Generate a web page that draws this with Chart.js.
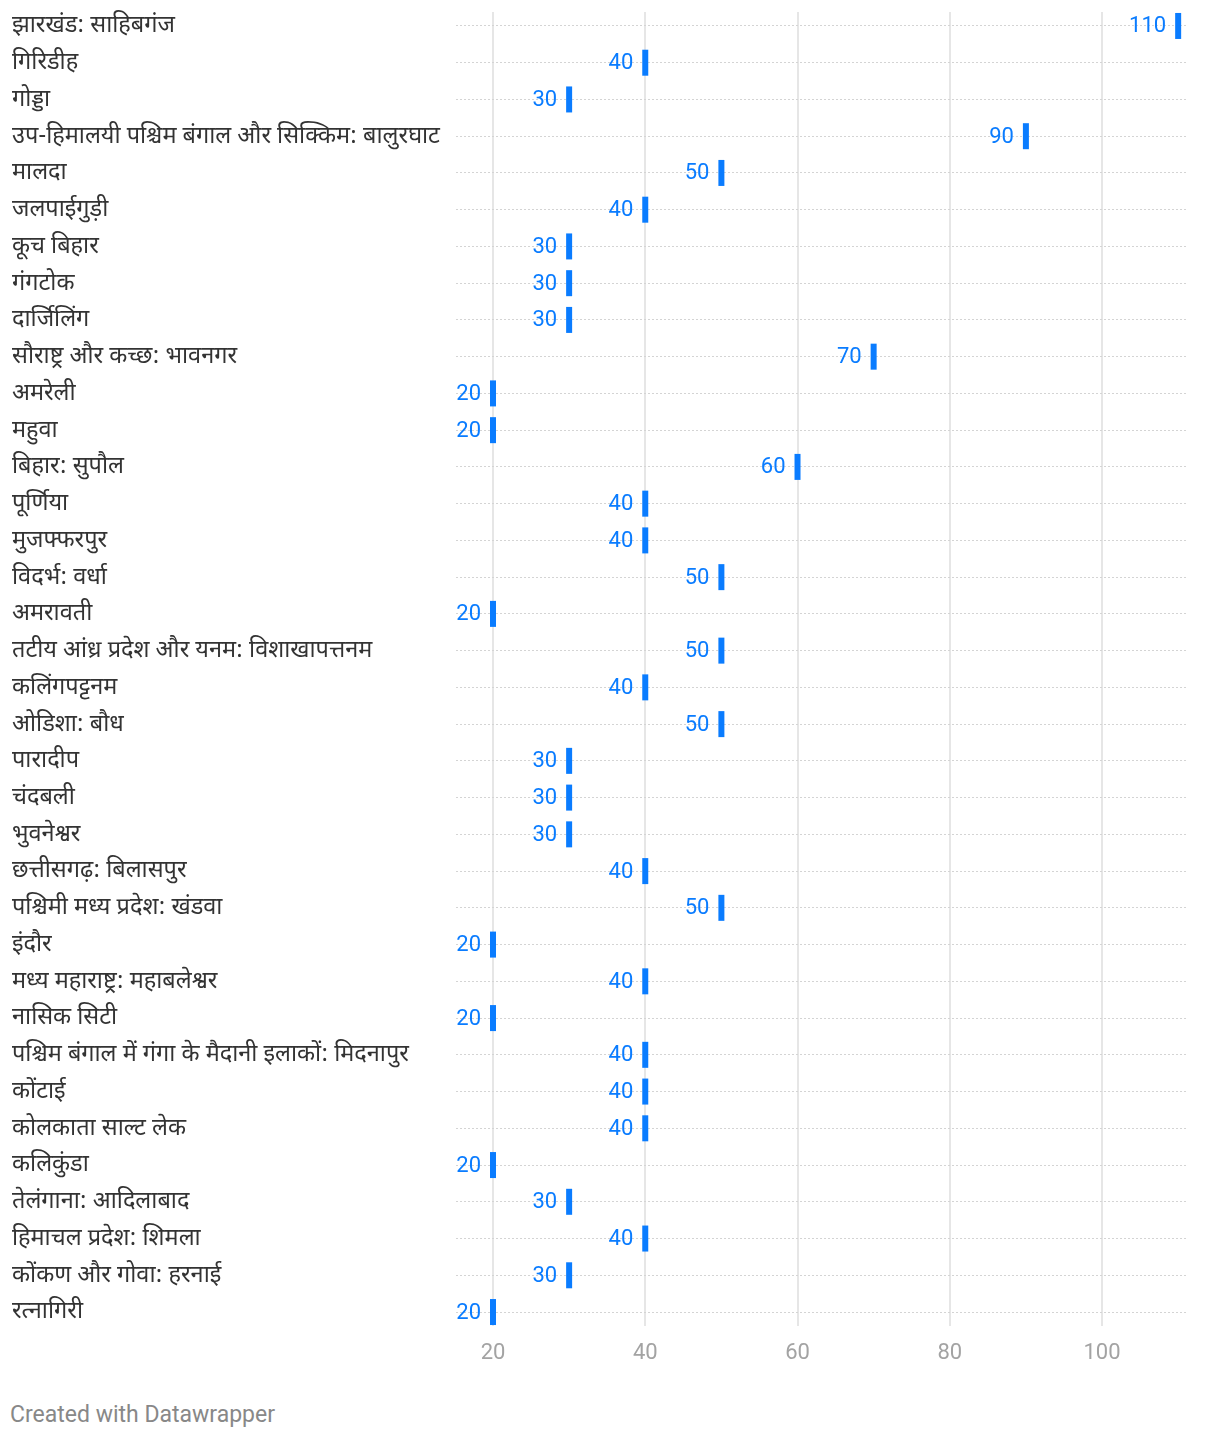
<!DOCTYPE html>
<html>
<head>
<meta charset="utf-8">
<script src="https://cdn.jsdelivr.net/npm/chart.js@4/dist/chart.umd.min.js"></script>
<style>
  html, body { margin: 0; padding: 0; background: #fff; }
  #wrap { position: relative; width: 1220px; height: 1380px; }
  #footer { position: absolute; left: 10px; top: 1401px; font: 23px Roboto, "Noto Sans", sans-serif; color: #888; }
</style>
</head>
<body>
<div id="wrap"><canvas id="c" width="1220" height="1380"></canvas></div>
<div id="footer">Created with Datawrapper</div>
<script>
const categories = [
  "झारखंड: साहिबगंज", "गिरिडीह", "गोड्डा",
  "उप-हिमालयी पश्चिम बंगाल और सिक्किम: बालुरघाट", "मालदा", "जलपाईगुड़ी", "कूच बिहार", "गंगटोक", "दार्जिलिंग",
  "सौराष्ट्र और कच्छ: भावनगर", "अमरेली", "महुवा",
  "बिहार: सुपौल", "पूर्णिया", "मुजफ्फरपुर",
  "विदर्भ: वर्धा", "अमरावती",
  "तटीय आंध्र प्रदेश और यनम: विशाखापत्तनम", "कलिंगपट्टनम",
  "ओडिशा: बौध", "पारादीप", "चंदबली", "भुवनेश्वर",
  "छत्तीसगढ़: बिलासपुर",
  "पश्चिमी मध्य प्रदेश: खंडवा", "इंदौर",
  "मध्य महाराष्ट्र: महाबलेश्वर", "नासिक सिटी",
  "पश्चिम बंगाल में गंगा के मैदानी इलाकों: मिदनापुर", "कोंटाई", "कोलकाता साल्ट लेक", "कलिकुंडा",
  "तेलंगाना: आदिलाबाद", "हिमाचल प्रदेश: शिमला",
  "कोंकण और गोवा: हरनाई", "रत्नागिरी"
];
const values = [
  110, 40, 30,
  90, 50, 40, 30, 30, 30,
  70, 20, 20,
  60, 40, 40,
  50, 20,
  50, 40,
  50, 30, 30, 30,
  40,
  50, 20,
  40, 20,
  40, 40, 40, 20,
  30, 40,
  30, 20
];
const xTicks = [20, 40, 60, 80, 100];

const BLUE = "#0a7cff";
const FONT = 'Roboto, "Noto Sans", sans-serif';
const LABEL_FONT = '"Noto Sans Devanagari", "Noto Sans", Roboto, sans-serif';

const valueLabels = {
  id: "valueLabels",
  afterDatasetsDraw(chart) {
    const ctx = chart.ctx;
    const meta = chart.getDatasetMeta(0);
    ctx.save();
    ctx.font = "22px " + FONT;
    ctx.fillStyle = BLUE;
    ctx.textAlign = "right";
    ctx.textBaseline = "middle";
    meta.data.forEach((pt, i) => {
      ctx.fillText(String(values[i]), pt.x - 12, pt.y + 1);
    });
    ctx.restore();
  }
};

new Chart(document.getElementById("c"), {
  type: "scatter",
  data: {
    datasets: [{
      data: values.map((v, i) => ({ x: v, y: i })),
      pointStyle: "line",
      rotation: 90,
      radius: 13,
      hoverRadius: 13,
      borderWidth: 6,
      hoverBorderWidth: 6,
      borderColor: BLUE,
      backgroundColor: BLUE,
      clip: false
    }]
  },
  options: {
    responsive: false,
    animation: false,
    events: [],
    layout: { autoPadding: false, padding: { left: 12, right: 34, top: 12, bottom: 6 } },
    plugins: { legend: { display: false }, tooltip: { enabled: false } },
    scales: {
      x: {
        type: "linear",
        min: 15.14,
        max: 111.03,
        afterBuildTicks: (s) => { s.ticks = xTicks.map(v => ({ value: v })); },
        afterFit: (s) => { s.height = 48; s.paddingLeft = 0; s.paddingRight = 0; },
        grid: { color: "#e6e6e6", lineWidth: 2, drawTicks: false },
        border: { display: false },
        ticks: { color: "#a3a3a3", font: { family: FONT, size: 22 }, padding: 14 }
      },
      y: {
        type: "linear",
        reverse: true,
        min: -0.38,
        max: categories.length - 1 + 0.38,
        afterBuildTicks: (s) => { s.ticks = categories.map((c, i) => ({ value: i })); },
        afterFit: (s) => { s.width = 444; s.paddingTop = 0; s.paddingBottom = 0; },
        grid: { color: "#d4d4d4", lineWidth: 1, drawTicks: false, borderDash: [2, 2] },
        border: { display: false, dash: [2, 2] },
        ticks: {
          crossAlign: "far",
          autoSkip: false,
          color: "#333",
          padding: 0,
          labelOffset: 2,
          font: { family: LABEL_FONT, size: 23.5 },
          callback: (v) => categories[v]
        }
      }
    }
  },
  plugins: [valueLabels]
});
</script>
</body>
</html>
